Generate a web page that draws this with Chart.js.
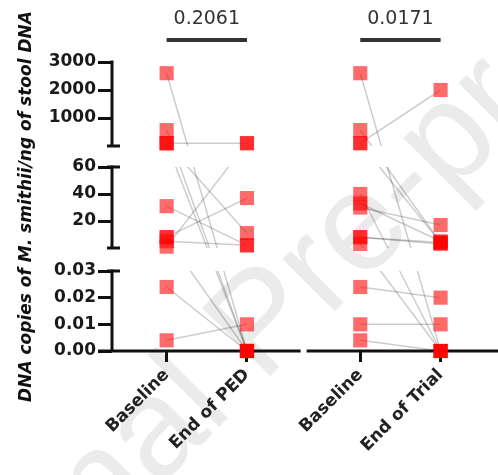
<!DOCTYPE html>
<html lang="en">
<head>
<meta charset="UTF-8">
<title>M. smithii DNA copies</title>
<style>
  html, body { margin: 0; padding: 0; background: #fff; }
  canvas { display: block; }
</style>
</head>
<body>
<canvas id="myChart" width="498" height="475"></canvas>
<script src="https://cdn.jsdelivr.net/npm/chart.js"></script>
<script>
// x categories and where they sit (two pairs with a gap between them)
var categories = ['Baseline', 'End of PED', 'Baseline', 'End of Trial'];
var xPos = [1, 2, 3.41, 4.41];

// paired values, one entry per subject
var baselinePED = [2600, 570, 100, 100, 100, 1, 8, 31, 8, 5, 0.024, 0.004];
var endPED      = [0,    0,   0,   100, 11,  100, 37, 2, 0, 2, 0,     0.01];

var baselineTrial = [2600, 570, 100, 100,  40, 33, 30, 8, 8, 3, 0.024, 0.01, 0.004];
var endTrial      = [0,    4,   2000, 4,   0,  5,  17, 4, 3, 0, 0.02,  0.01, 0];

var pValues = ['0.2061', '0.0171'];

// tick labels of the three axis pieces
var ticksLow = [0, 0.01, 0.02, 0.03];
var ticksMid = [20, 40, 60];
var ticksHigh = [1000, 2000, 3000];

// broken axis: every piece gets its own band on an internal 0..289 scale
var pieces = [
  { max: 0.03, from: 0, to: 80 },
  { max: 60, from: 103, to: 184 },
  { max: 3000, from: 205, to: 289 }
];
function toBand(v) {
  var p = v <= pieces[0].max ? pieces[0] : (v <= pieces[1].max ? pieces[1] : pieces[2]);
  return p.from + v / p.max * (p.to - p.from);
}

var LinearScale = Chart.LinearScale || Chart.registry.getScale('linear');
class BrokenScale extends LinearScale {
  getPixelForValue(value) { return super.getPixelForValue(toBand(value)); }
  getPixelForBand(b) { return super.getPixelForValue(b); }
}
BrokenScale.id = 'broken';
BrokenScale.defaults = LinearScale.defaults;
Chart.register(BrokenScale);

Chart.defaults.font.family = "'DejaVu Sans', sans-serif";

function pairSets(base, end, xa, xb) {
  return base.map(function (b, i) {
    return {
      label: 'pair',
      data: [{ x: xa, y: b }, { x: xb, y: end[i] }],
      showLine: true,
      borderColor: 'rgba(0,0,0,0.2)',
      borderWidth: 1.5,
      pointRadius: 0,
      clip: false,
      order: 2
    };
  });
}
function dots(vals, x) {
  return {
    label: 'dots',
    data: vals.map(function (v) { return { x: x, y: v }; }),
    pointStyle: 'rect',
    pointRadius: 10,
    backgroundColor: 'rgba(255,0,0,0.58)',
    borderWidth: 0,
    clip: false,
    order: 1
  };
}

var datasets = [
  dots(baselinePED, xPos[0]), dots(endPED, xPos[1]),
  dots(baselineTrial, xPos[2]), dots(endTrial, xPos[3])
].concat(pairSets(baselinePED, endPED, xPos[0], xPos[1]),
         pairSets(baselineTrial, endTrial, xPos[2], xPos[3]));

// watermark behind everything
var watermark = {
  id: 'watermark',
  beforeDraw: function (chart) {
    var ctx = chart.ctx;
    ctx.save();
    ctx.fillStyle = '#ebebeb';
    ctx.font = "140px 'Liberation Sans', Arial, sans-serif";
    ctx.translate(262, 384);
    ctx.rotate(-45 * Math.PI / 180);
    ctx.textBaseline = 'alphabetic';
    ctx.textAlign = 'left';
    ctx.fillText('Pre-proof', 0, 0);
    ctx.textAlign = 'right';
    ctx.fillText('Journal ', 0, 0);
    ctx.restore();
  }
};

// lines are hidden in the gaps between the axis pieces
var gapClip = {
  id: 'gapClip',
  beforeDatasetDraw: function (chart, args) {
    if (chart.data.datasets[args.index].label !== 'pair') return;
    var ctx = chart.ctx, y = chart.scales.y;
    ctx.save();
    ctx.beginPath();
    pieces.forEach(function (p) {
      var t = y.getPixelForBand(p.to), b = y.getPixelForBand(p.from);
      ctx.rect(0, t, chart.width, b - t);
    });
    ctx.clip();
  },
  afterDatasetDraw: function (chart, args) {
    if (chart.data.datasets[args.index].label !== 'pair') return;
    chart.ctx.restore();
  }
};

// broken y axis pieces, caps and the split x axis
var axes = {
  id: 'axes',
  beforeDatasetsDraw: function (chart) {
    var ctx = chart.ctx, y = chart.scales.y, x = chart.scales.x;
    var left = chart.chartArea.left;
    ctx.save();
    ctx.strokeStyle = '#111';
    ctx.lineWidth = 3;
    ctx.lineCap = 'butt';
    pieces.forEach(function (p, i) {
      var t = y.getPixelForBand(p.to), b = y.getPixelForBand(p.from);
      ctx.beginPath();
      ctx.moveTo(left, t - 1.5);
      ctx.lineTo(left, b);
      ctx.stroke();
      if (i > 0) {
        ctx.beginPath();
        ctx.moveTo(left - 5, b); ctx.lineTo(left + 8, b);
        ctx.stroke();
      }
      if (i < pieces.length - 1) {
        ctx.beginPath();
        ctx.moveTo(left - 5, t); ctx.lineTo(left + 8, t);
        ctx.stroke();
      }
    });
    var y0 = y.getPixelForValue(0);
    var gap = x.getPixelForValue((xPos[1] + xPos[2]) / 2);
    ctx.beginPath();
    ctx.moveTo(left - 14, y0); ctx.lineTo(gap - 3, y0);
    ctx.moveTo(gap + 3, y0); ctx.lineTo(chart.width, y0);
    ctx.stroke();
    ctx.restore();
  }
};

// p-values over each pair
var pLabels = {
  id: 'pLabels',
  afterDraw: function (chart) {
    var ctx = chart.ctx, x = chart.scales.x;
    ctx.save();
    pValues.forEach(function (txt, i) {
      var a = x.getPixelForValue(xPos[2 * i]), b = x.getPixelForValue(xPos[2 * i + 1]);
      ctx.strokeStyle = '#333';
      ctx.lineWidth = 4;
      ctx.beginPath();
      ctx.moveTo(a, 40); ctx.lineTo(b, 40);
      ctx.stroke();
      ctx.fillStyle = '#333';
      ctx.font = "19px 'DejaVu Sans', sans-serif";
      ctx.textAlign = 'center';
      ctx.textBaseline = 'middle';
      ctx.fillText(txt, (a + b) / 2, 19);
    });
    ctx.restore();
  }
};

var ctx = document.getElementById('myChart').getContext('2d');
var myChart = new Chart(ctx, {
  type: 'scatter',
  data: { datasets: datasets },
  plugins: [watermark, gapClip, axes, pLabels],
  options: {
    responsive: false,
    animation: false,
    events: [],
    layout: { padding: { top: 62, left: 0, right: 0, bottom: 0 } },
    plugins: { legend: { display: false }, tooltip: { enabled: false } },
    scales: {
      x: {
        type: 'linear',
        min: 0.32,
        max: 5.0,
        border: { display: false },
        grid: { drawOnChartArea: false, drawTicks: true, tickLength: 11, lineWidth: 3, color: '#111' },
        afterBuildTicks: function (s) {
          s.ticks = xPos.map(function (v) { return { value: v }; });
        },
        afterFit: function (s) {
          s.height = 124;
          s.paddingLeft = 0;
          s.paddingRight = 0;
        },
        ticks: {
          autoSkip: false,
          minRotation: 45,
          maxRotation: 45,
          padding: 3,
          color: '#222',
          font: { size: 17, weight: 'bold' },
          callback: function (v, i) { return categories[i]; }
        }
      },
      y: {
        type: 'broken',
        min: 0,
        max: 289,
        border: { display: false },
        grid: { drawOnChartArea: false, drawTicks: true, tickLength: 14, lineWidth: 3, color: '#111' },
        afterBuildTicks: function (s) {
          s.ticks = ticksLow.concat(ticksMid, ticksHigh).map(function (v) { return { value: v }; });
        },
        afterFit: function (s) {
          s.width = 112;
          s.paddingTop = 0;
          s.paddingBottom = 0;
        },
        title: {
          display: true,
          text: 'DNA copies of M. smithii/ng of stool DNA',
          color: '#111',
          font: { size: 17, style: 'italic', weight: 'bold' },
          padding: { top: 16, bottom: 0 }
        },
        ticks: {
          autoSkip: false,
          padding: 2,
          color: '#1a1a1a',
          font: { size: 17, weight: 'bold' },
          callback: function (v) { return v < 1 ? v.toFixed(2) : String(v); }
        }
      }
    }
  }
});
</script>
</body>
</html>
